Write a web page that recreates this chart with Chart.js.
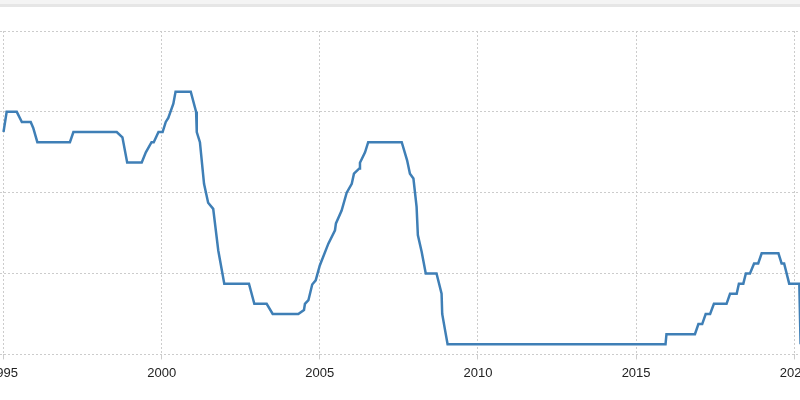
<!DOCTYPE html>
<html>
<head>
  <meta charset="UTF-8">
  <title>Fed Funds Rate</title>
  <script src="https://cdn.jsdelivr.net/npm/chart.js"></script>
  <style>
    body {
      margin: 0;
      width: 800px;
      height: 400px;
      overflow: hidden;
      position: relative;
      background: #fff;
    }
    #topbar {
      position: absolute;
      left: 0;
      top: 0;
      width: 800px;
      height: 4px;
      background: #f4f4f4;
      border-bottom: 3px solid #e6e6e6;
      z-index: 2;
    }
    #wrap {
      position: absolute;
      left: -20px;
      top: 0;
      width: 840px;
      height: 400px;
    }
  </style>
</head>
<body>
  <div id="topbar"></div>
  <div id="wrap"><canvas id="rateChart" width="840" height="400"></canvas></div>

  <script>
    // corner points of the line, decimal year and rate in percent
    const dates = [
      1995.00, 1995.10, 1995.42, 1995.58, 1995.86, 1995.94, 1996.07, 1997.10, 1997.21, 1998.58,
      1998.76, 1998.91, 1999.37, 1999.50, 1999.68, 1999.75, 1999.90, 2000.03, 2000.13, 2000.21,
      2000.37, 2000.44, 2000.92, 2001.09, 2001.11, 2001.21, 2001.34, 2001.47, 2001.63, 2001.79,
      2001.98, 2002.76, 2002.93, 2003.32, 2003.51, 2004.32, 2004.50, 2004.53, 2004.64, 2004.76,
      2004.87, 2005.00, 2005.27, 2005.48, 2005.51, 2005.69, 2005.85, 2006.01, 2006.08, 2006.25,
      2006.27, 2006.43, 2006.53, 2007.59, 2007.76, 2007.85, 2007.96, 2008.06, 2008.10, 2008.22,
      2008.35, 2008.69, 2008.85, 2008.87, 2008.96, 2009.04, 2015.93, 2015.96, 2016.86, 2016.97,
      2017.09, 2017.20, 2017.34, 2017.46, 2017.86, 2017.97, 2018.18, 2018.25, 2018.39, 2018.47,
      2018.60, 2018.73, 2018.86, 2018.97, 2019.50, 2019.60, 2019.68, 2019.84, 2020.16, 2020.20
    ];
    const rates = [
      5.50, 6.00, 6.00, 5.75, 5.75, 5.60, 5.25, 5.25, 5.50, 5.50,
      5.37, 4.75, 4.75, 5.00, 5.25, 5.25, 5.50, 5.50, 5.75, 5.85,
      6.20, 6.50, 6.50, 6.00, 5.50, 5.25, 4.22, 3.75, 3.60, 2.57,
      1.75, 1.75, 1.25, 1.25, 1.00, 1.00, 1.10, 1.25, 1.34, 1.73,
      1.83, 2.20, 2.74, 3.07, 3.24, 3.56, 4.00, 4.22, 4.47, 4.60,
      4.74, 5.00, 5.25, 5.25, 4.80, 4.47, 4.35, 3.65, 2.95, 2.54,
      2.00, 2.00, 1.50, 1.00, 0.60, 0.25, 0.25, 0.50, 0.50, 0.75,
      0.75, 1.00, 1.00, 1.25, 1.25, 1.50, 1.50, 1.75, 1.75, 2.00,
      2.00, 2.25, 2.25, 2.50, 2.50, 2.25, 2.25, 1.75, 1.75, 0.25
    ];
    const yearTicks = [1995, 2000, 2005, 2010, 2015, 2020];
    const rateTicks = [0, 2, 4, 6, 8];

    const points = dates.map((d, i) => ({ x: d, y: rates[i] }));

    const ctx = document.getElementById('rateChart').getContext('2d');
    new Chart(ctx, {
      type: 'line',
      data: {
        datasets: [{
          data: points,
          borderColor: '#3f7fb6',
          borderWidth: 2.5,
          pointRadius: 0,
          fill: false,
          tension: 0
        }]
      },
      options: {
        responsive: false,
        animation: false,
        layout: {
          padding: { top: 31, bottom: 13, left: 0, right: 0 }
        },
        plugins: {
          legend: { display: false },
          tooltip: { enabled: false }
        },
        scales: {
          x: {
            type: 'linear',
            min: 1994.257,
            max: 2020.814,
            afterBuildTicks: scale => {
              scale.ticks = yearTicks.map(v => ({ value: v }));
            },
            grid: {
              color: '#cccccc',
              tickColor: '#cccccc',
              tickLength: 5
            },
            border: { display: false, dash: [2, 2] },
            ticks: {
              padding: 6,
              color: '#222',
              font: { family: 'Arial', size: 13 },
              callback: v => String(v)
            }
          },
          y: {
            min: 0,
            max: 8,
            afterBuildTicks: scale => {
              scale.ticks = rateTicks.map(v => ({ value: v }));
            },
            grid: {
              color: '#cccccc',
              drawTicks: false
            },
            border: { display: false, dash: [2, 2] },
            ticks: { display: false }
          }
        }
      }
    });
  </script>
</body>
</html>
